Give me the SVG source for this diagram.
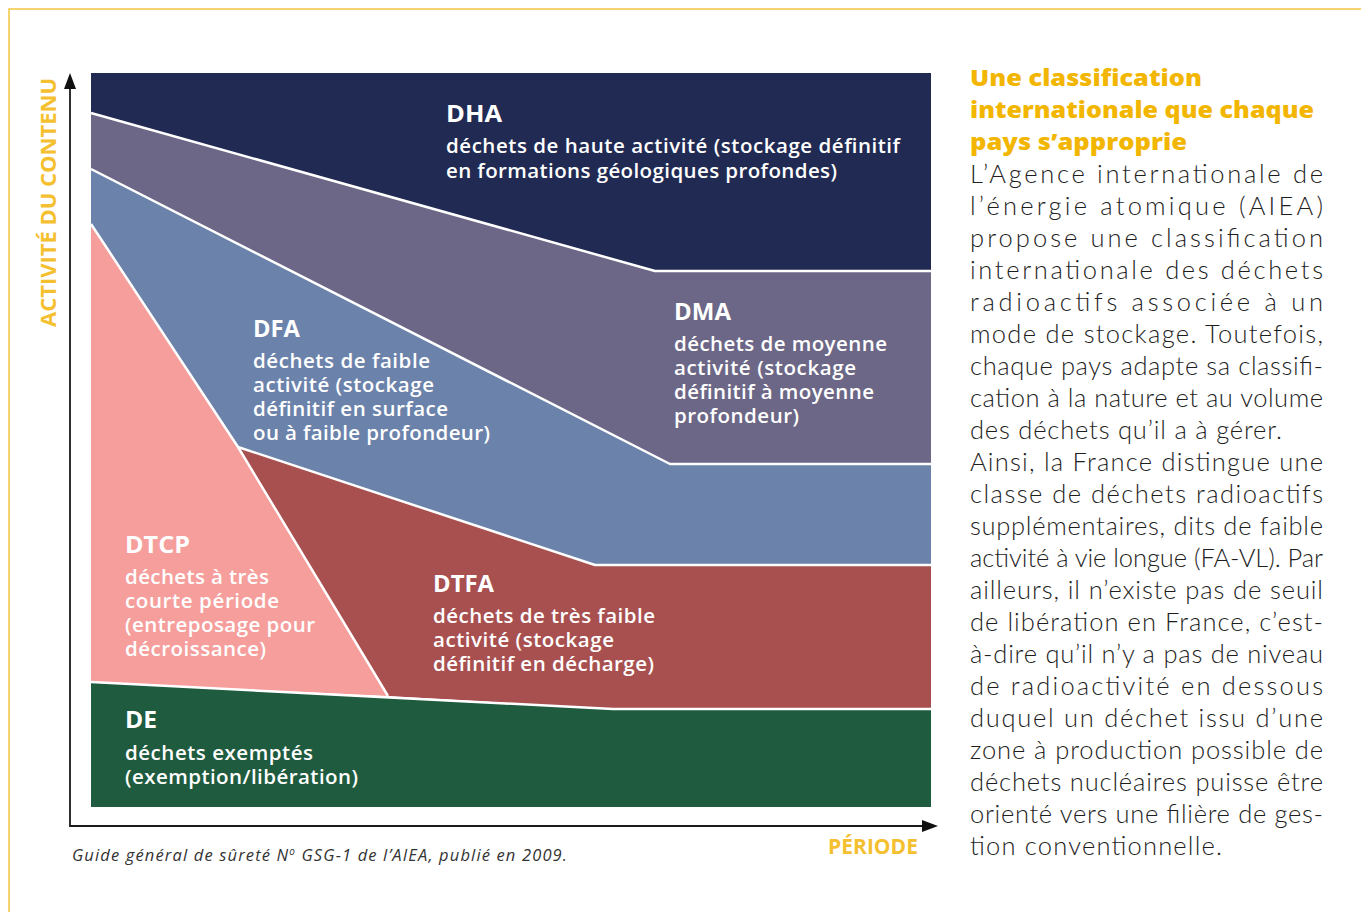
<svg xmlns="http://www.w3.org/2000/svg" width="1361" height="912" viewBox="0 0 1361 912">
<style>
.t{font-family:"Open Sans","Liberation Sans",sans-serif;font-weight:700;font-size:22.5px;fill:#ffffff}
.b{font-family:"Open Sans","Liberation Sans",sans-serif;font-weight:600;font-size:20.5px;fill:#ffffff}
.sep{fill:none;stroke:#ffffff;stroke-width:2.5;stroke-linejoin:round}
.ax{stroke:#1a1a1a;stroke-width:1.8;fill:none}
.ah{fill:#111111}
.yl{font-family:"Open Sans","Liberation Sans",sans-serif;font-weight:700;font-size:21px;fill:#F5C030}
.h{font-family:"Open Sans","Liberation Sans",sans-serif;font-weight:800;font-size:23px;fill:#F2B600}
.p{font-family:"Lato","Open Sans","Liberation Sans",sans-serif;font-weight:300;font-size:25.5px;fill:#1e1e1e}
.cap{font-family:"Open Sans","Liberation Sans",sans-serif;font-style:italic;font-weight:400;font-size:16.5px;fill:#333333}
</style>
<rect x="0" y="0" width="1361" height="912" fill="#ffffff"/>
<path d="M1361 9 H9 V912" fill="none" stroke="#F5C542" stroke-width="1.5"/>

<g id="DHA">
<polygon points="91,73 931,73 931,271 655,271 91,113" fill="#212A52"/>
<text class="t" x="446" y="122" textLength="56" lengthAdjust="spacingAndGlyphs">DHA</text>
<text class="b" x="446" y="153" textLength="454" lengthAdjust="spacing">déchets de haute activité (stockage définitif</text>
<text class="b" x="446" y="178" textLength="391" lengthAdjust="spacing">en formations géologiques profondes)</text>
</g>

<g id="DMA">
<polygon points="91,113 655,271 931,271 931,464 670,464 91,169" fill="#6C6786"/>
<text class="t" x="674" y="320" textLength="57" lengthAdjust="spacingAndGlyphs">DMA</text>
<text class="b" x="674" y="351" textLength="213" lengthAdjust="spacing">déchets de moyenne</text>
<text class="b" x="674" y="375" textLength="182" lengthAdjust="spacing">activité (stockage</text>
<text class="b" x="674" y="399" textLength="200" lengthAdjust="spacing">définitif à moyenne</text>
<text class="b" x="674" y="423" textLength="125" lengthAdjust="spacing">profondeur)</text>
</g>

<g id="DFA">
<polygon points="91,169 670,464 931,464 931,565 595,565 238,447 91,224" fill="#6B82AB"/>
<text class="t" x="253" y="337" textLength="47" lengthAdjust="spacingAndGlyphs">DFA</text>
<text class="b" x="253" y="368" textLength="177" lengthAdjust="spacing">déchets de faible</text>
<text class="b" x="253" y="392" textLength="181" lengthAdjust="spacing">activité (stockage</text>
<text class="b" x="253" y="416" textLength="195" lengthAdjust="spacing">définitif en surface</text>
<text class="b" x="253" y="440" textLength="237" lengthAdjust="spacing">ou à faible profondeur)</text>
</g>

<g id="DTCP">
<polygon points="91,224 238,447 388,696 91,682" fill="#F59E9C"/>
<text class="t" x="125" y="553" textLength="65" lengthAdjust="spacingAndGlyphs">DTCP</text>
<text class="b" x="125" y="584" textLength="144" lengthAdjust="spacing">déchets à très</text>
<text class="b" x="125" y="608" textLength="154" lengthAdjust="spacing">courte période</text>
<text class="b" x="125" y="632" textLength="190" lengthAdjust="spacing">(entreposage pour</text>
<text class="b" x="125" y="656" textLength="141" lengthAdjust="spacing">décroissance)</text>
</g>

<g id="DTFA">
<polygon points="238,447 595,565 931,565 931,709 613,709 388,696" fill="#A85050"/>
<text class="t" x="433" y="592" textLength="61" lengthAdjust="spacingAndGlyphs">DTFA</text>
<text class="b" x="433" y="623" textLength="222" lengthAdjust="spacing">déchets de très faible</text>
<text class="b" x="433" y="647" textLength="181" lengthAdjust="spacing">activité (stockage</text>
<text class="b" x="433" y="671" textLength="221" lengthAdjust="spacing">définitif en décharge)</text>
</g>

<g id="DE">
<polygon points="91,682 613,709 931,709 931,807 91,807" fill="#1F5B3F"/>
<text class="t" x="125" y="728" textLength="32" lengthAdjust="spacingAndGlyphs">DE</text>
<text class="b" x="125" y="760" textLength="188" lengthAdjust="spacing">déchets exemptés</text>
<text class="b" x="125" y="784" textLength="233" lengthAdjust="spacing">(exemption/libération)</text>
</g>

<g id="connectors">
<polyline class="sep" points="91,113 655,271 931,271"/>
<polyline class="sep" points="91,169 670,464 931,464"/>
<polyline class="sep" points="91,224 238,447 388,696"/>
<polyline class="sep" points="238,447 595,565 931,565"/>
<polyline class="sep" points="91,682 613,709 931,709"/>
<path class="ax" d="M70 88 V826 H924"/>
<polygon class="ah" points="70,73 64,89 76,89"/>
<polygon class="ah" points="938,826 922,820 922,832"/>
</g>

<g id="axis-labels">
<text class="yl" transform="translate(56,327) rotate(-90)" textLength="249" lengthAdjust="spacingAndGlyphs">ACTIVITÉ DU CONTENU</text>
<text class="yl" x="828" y="854" textLength="90" lengthAdjust="spacingAndGlyphs">PÉRIODE</text>
<text class="cap" x="72" y="861" textLength="495" lengthAdjust="spacing">Guide général de sûreté N<tspan font-size="10" dy="-6">o</tspan><tspan dy="6"> GSG-1 de l’AIEA, publié en 2009.</tspan></text>
</g>

<g id="sidebar">
<text class="h" x="970" y="86" textLength="232" lengthAdjust="spacingAndGlyphs">Une classification</text>
<text class="h" x="970" y="118" textLength="344" lengthAdjust="spacingAndGlyphs">internationale que chaque</text>
<text class="h" x="970" y="150" textLength="217" lengthAdjust="spacingAndGlyphs">pays s’approprie</text>
<text class="p" x="970" y="183" textLength="353" lengthAdjust="spacing">L’Agence internationale de</text>
<text class="p" x="970" y="215" textLength="353" lengthAdjust="spacing">l’énergie atomique (AIEA)</text>
<text class="p" x="970" y="247" textLength="353" lengthAdjust="spacing">propose une classification</text>
<text class="p" x="970" y="279" textLength="353" lengthAdjust="spacing">internationale des déchets</text>
<text class="p" x="970" y="311" textLength="353" lengthAdjust="spacing">radioactifs associée à un</text>
<text class="p" x="970" y="343" textLength="353" lengthAdjust="spacing">mode de stockage. Toutefois,</text>
<text class="p" x="970" y="375" textLength="353" lengthAdjust="spacing">chaque pays adapte sa classifi-</text>
<text class="p" x="970" y="407" textLength="353" lengthAdjust="spacing">cation à la nature et au volume</text>
<text class="p" x="970" y="439" textLength="312" lengthAdjust="spacing">des déchets qu’il a à gérer.</text>
<text class="p" x="970" y="471" textLength="353" lengthAdjust="spacing">Ainsi, la France distingue une</text>
<text class="p" x="970" y="503" textLength="353" lengthAdjust="spacing">classe de déchets radioactifs</text>
<text class="p" x="970" y="535" textLength="353" lengthAdjust="spacing">supplémentaires, dits de faible</text>
<text class="p" x="970" y="567" textLength="353" lengthAdjust="spacing">activité à vie longue (FA-VL). Par</text>
<text class="p" x="970" y="599" textLength="353" lengthAdjust="spacing">ailleurs, il n’existe pas de seuil</text>
<text class="p" x="970" y="631" textLength="353" lengthAdjust="spacing">de libération en France, c’est-</text>
<text class="p" x="970" y="663" textLength="353" lengthAdjust="spacing">à-dire qu’il n’y a pas de niveau</text>
<text class="p" x="970" y="695" textLength="353" lengthAdjust="spacing">de radioactivité en dessous</text>
<text class="p" x="970" y="727" textLength="353" lengthAdjust="spacing">duquel un déchet issu d’une</text>
<text class="p" x="970" y="759" textLength="353" lengthAdjust="spacing">zone à production possible de</text>
<text class="p" x="970" y="791" textLength="353" lengthAdjust="spacing">déchets nucléaires puisse être</text>
<text class="p" x="970" y="823" textLength="353" lengthAdjust="spacing">orienté vers une filière de ges-</text>
<text class="p" x="970" y="855" textLength="252" lengthAdjust="spacing">tion conventionnelle.</text>
</g>
</svg>
